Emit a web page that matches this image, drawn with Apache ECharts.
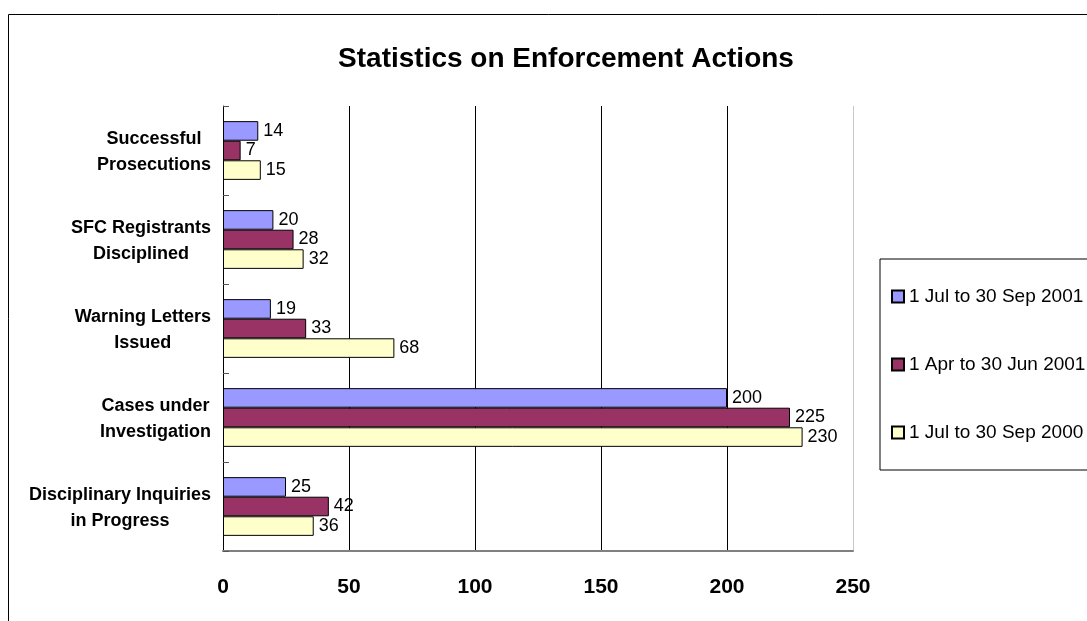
<!DOCTYPE html>
<html>
<head>
<meta charset="utf-8">
<script src="https://cdn.jsdelivr.net/npm/echarts@6/dist/echarts.min.js"></script>
<style>
  html, body { margin: 0; padding: 0; background: #fff; }
  #main { width: 1087px; height: 621px; }
</style>
</head>
<body>
<div id="main"></div>
<script>
// categories, top to bottom as in the picture
var categories = [
    'Successful\nProsecutions',
    'SFC Registrants\nDisciplined',
    'Warning Letters\nIssued',
    'Cases under\nInvestigation',
    'Disciplinary Inquiries\nin Progress'
];
var seriesNames = ['1 Jul to 30 Sep 2001', '1 Apr to 30 Jun 2001', '1 Jul to 30 Sep 2000'];
var q3_2001 = [14, 20, 19, 200, 25];
var q2_2001 = [7, 28, 33, 225, 42];
var q3_2000 = [15, 32, 68, 230, 36];
var xTicks = [0, 50, 100, 150, 200, 250];

var colors = ['#9999FF', '#993366', '#FFFFCC'];
var font = 'Liberation Sans, Arial, sans-serif';

var myChart = echarts.init(document.getElementById('main'));

function makeSeries(name, data, color) {
    return {
        name: name,
        type: 'bar',
        data: data,
        barGap: '0%',
        barCategoryGap: '34%',
        itemStyle: {
            color: color,
            borderColor: '#000',
            borderWidth: 1
        },
        label: {
            show: true,
            position: 'right',
            distance: 5,
            color: '#000',
            fontFamily: font,
            fontSize: 18
        }
    };
}

var option = {
    backgroundColor: '#fff',
    animation: false,
    title: {
        text: 'Statistics on Enforcement Actions',
        left: 561,
        top: 40,
        textAlign: 'center',
        textStyle: {
            fontFamily: font,
            fontSize: 28,
            fontWeight: 'bold',
            color: '#000'
        }
    },
    legend: {
        orient: 'vertical',
        left: 880,
        top: 259,
        padding: [28, 40, 28, 11],
        borderColor: '#000',
        borderWidth: 1,
        icon: 'rect',
        itemWidth: 12,
        itemHeight: 12,
        itemGap: 49,
        data: seriesNames,
        textStyle: {
            fontFamily: font,
            fontSize: 19,
            color: '#000'
        }
    },
    grid: {
        left: 223,
        right: 234,
        top: 106,
        bottom: 70
    },
    xAxis: {
        type: 'value',
        min: xTicks[0],
        max: xTicks[xTicks.length - 1],
        interval: 50,
        axisLine: { show: true, lineStyle: { color: '#808080', width: 2 } },
        axisTick: { show: false },
        axisLabel: {
            margin: 26,
            color: '#000',
            fontFamily: font,
            fontSize: 21,
            fontWeight: 'bold'
        },
        splitLine: {
            show: true,
            lineStyle: { color: ['#000', '#000', '#000', '#000', '#000', '#c8c8c8'], width: 1 }
        }
    },
    yAxis: {
        type: 'category',
        inverse: true,
        data: categories,
        axisLine: { show: true, lineStyle: { color: '#000', width: 1 } },
        axisTick: { show: true, inside: true, length: 6, lineStyle: { color: '#555' } },
        axisLabel: {
            margin: 12,
            align: 'right',
            lineHeight: 26,
            padding: [4, 0, 0, 0],
            formatter: function (v) {
                return v.split('\n').map(function (s) { return '{c|' + s + '}'; }).join('\n');
            },
            rich: {
                c: {
                    align: 'center',
                    fontFamily: font,
                    fontSize: 18,
                    fontWeight: 'bold',
                    color: '#000',
                    lineHeight: 26
                }
            }
        }
    },
    graphic: [{
        type: 'rect',
        z: -10,
        shape: { x: 8.5, y: 14.5, width: 1200, height: 700 },
        style: { fill: 'none', stroke: '#000', lineWidth: 1 }
    }],
    series: [
        makeSeries(seriesNames[0], q3_2001, colors[0]),
        makeSeries(seriesNames[1], q2_2001, colors[1]),
        makeSeries(seriesNames[2], q3_2000, colors[2])
    ]
};

myChart.setOption(option);
</script>
</body>
</html>
